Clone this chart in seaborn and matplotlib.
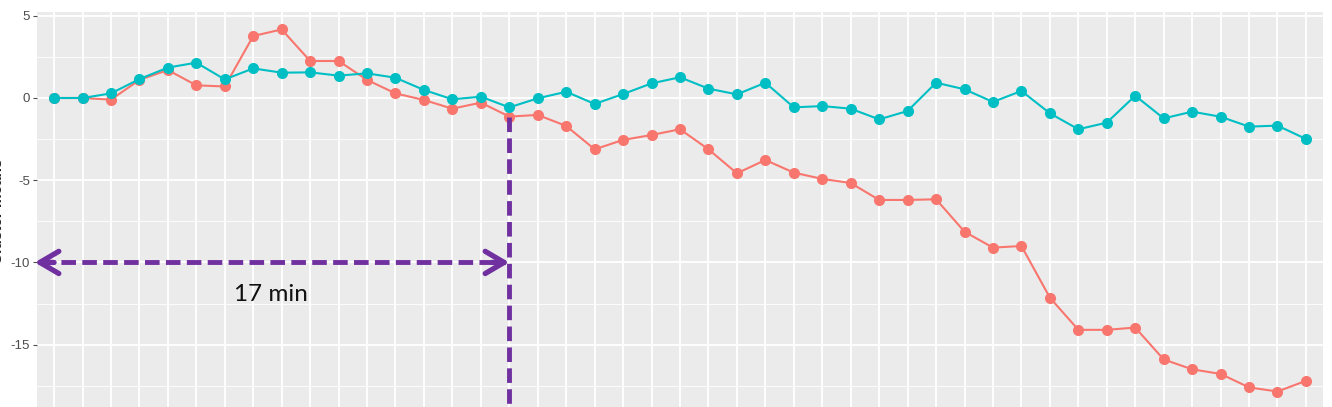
import numpy as np
import pandas as pd
import matplotlib
matplotlib.use("Agg")
import matplotlib.pyplot as plt
import seaborn as sns

# ---- data ----
time_idx = list(range(1, 46))
cluster1 = [0.0, 0.0, -0.1, 1.1, 1.7, 0.77, 0.7, 3.77, 4.17, 2.25, 2.25, 1.1, 0.28, -0.12,
            -0.65, -0.28, -1.13, -1.03, -1.7, -3.12, -2.55, -2.25, -1.9, -3.12, -4.58,
            -3.77, -4.54, -4.92, -5.17, -6.2, -6.2, -6.16, -8.13, -9.1, -9.0, -12.14,
            -14.1, -14.1, -13.96, -15.9, -16.5, -16.78, -17.6, -17.85, -17.2]
cluster2 = [0.0, 0.0, 0.28, 1.15, 1.85, 2.15, 1.13, 1.8, 1.54, 1.56, 1.36, 1.5, 1.23, 0.49,
            -0.08, 0.08, -0.57, -0.02, 0.38, -0.36, 0.24, 0.89, 1.26, 0.57, 0.22, 0.93,
            -0.57, -0.49, -0.65, -1.3, -0.79, 0.93, 0.53, -0.24, 0.43, -0.93, -1.9, -1.5,
            0.14, -1.24, -0.83, -1.14, -1.74, -1.68, -2.49]
series_names = ["1", "2"]
series_colors = ["#F8766D", "#00BFC4"]
yticks = [5, 0, -5, -10, -15]
marker_time = 17
annot_label = "17 min"
ylabel = "Cluster means"

df = pd.DataFrame({
    "time": time_idx * 2,
    "value": cluster1 + cluster2,
    "cluster": [series_names[0]] * len(time_idx) + [series_names[1]] * len(time_idx),
})

sns.set_theme(style="darkgrid")
plt.rcParams["font.family"] = ["Liberation Sans", "DejaVu Sans"]

W, H = 1332, 407
fig = plt.figure(figsize=(W / 100, H / 100), dpi=100)
left_px, right_px, top_px, bottom_px = 37, 1323, 12, 409.6
ax = fig.add_axes([left_px / W, 1 - bottom_px / H,
                   (right_px - left_px) / W, (bottom_px - top_px) / H])
ax.set_facecolor("#EBEBEB")

sns.lineplot(data=df, x="time", y="value", hue="cluster", palette=series_colors,
             marker="o", markersize=8, markeredgewidth=0, linewidth=1.5,
             ax=ax, legend=False, zorder=3)

ax.set_xlim(time_idx[0] - 0.6, time_idx[-1] + 0.6)
ax.set_ylim(-18.95, 5.23)
ax.set_xticks(time_idx)
ax.set_xticklabels([])
ax.set_yticks(yticks)
ax.set_yticklabels([str(t) for t in yticks], fontsize=9.5, color="#4D4D4D")
ax.set_yticks([2.5, -2.5, -7.5, -12.5, -17.5], minor=True)
ax.grid(which="major", color="white", linewidth=1.3)
ax.grid(which="minor", axis="y", color="white", linewidth=0.6)
ax.tick_params(axis="y", which="major", length=3, width=0.8, color="#4D4D4D", pad=2, left=True)
ax.tick_params(axis="y", which="minor", length=0)
ax.tick_params(axis="x", length=0)
for s in ax.spines.values():
    s.set_visible(False)
ax.set_xlabel("")
ax.set_ylabel(ylabel, fontsize=11, fontweight="bold", color="#222222")
ax.yaxis.set_label_coords(-0.0245, 0.5)

purple = "#7030A0"
y_arrow = -10
x_left = time_idx[0] - 0.6
# vertical dashed line from the red point at marker_time downwards
v_top = cluster1[time_idx.index(marker_time)]
ax.plot([marker_time, marker_time], [v_top, -18.95], color=purple, linewidth=3.5,
        linestyle=(0, (3, 1.3)), zorder=4, solid_capstyle="butt", dash_capstyle="butt")
# horizontal dashed double arrow
ax.plot([x_left + 0.1, marker_time - 0.15], [y_arrow, y_arrow], color=purple, linewidth=3.5,
        linestyle=(0, (3, 1.3)), zorder=4, dash_capstyle="butt")
for tip, tail in [(x_left - 0.08, x_left + 0.6), (marker_time, marker_time - 0.6)]:
    ax.annotate("", xy=(tip, y_arrow), xytext=(tail, y_arrow),
                arrowprops=dict(arrowstyle="->,head_length=0.85,head_width=0.5",
                                color=purple, linewidth=3.8, mutation_scale=16,
                                shrinkA=0, shrinkB=0),
                annotation_clip=False, zorder=5)
ax.text((time_idx[0] + marker_time) / 2 - 0.38, -11.95, annot_label, fontsize=17.5,
        family=["Lato", "DejaVu Sans"], color="#111111", ha="center", va="center", zorder=5)

fig.savefig("out.png", dpi=100)
